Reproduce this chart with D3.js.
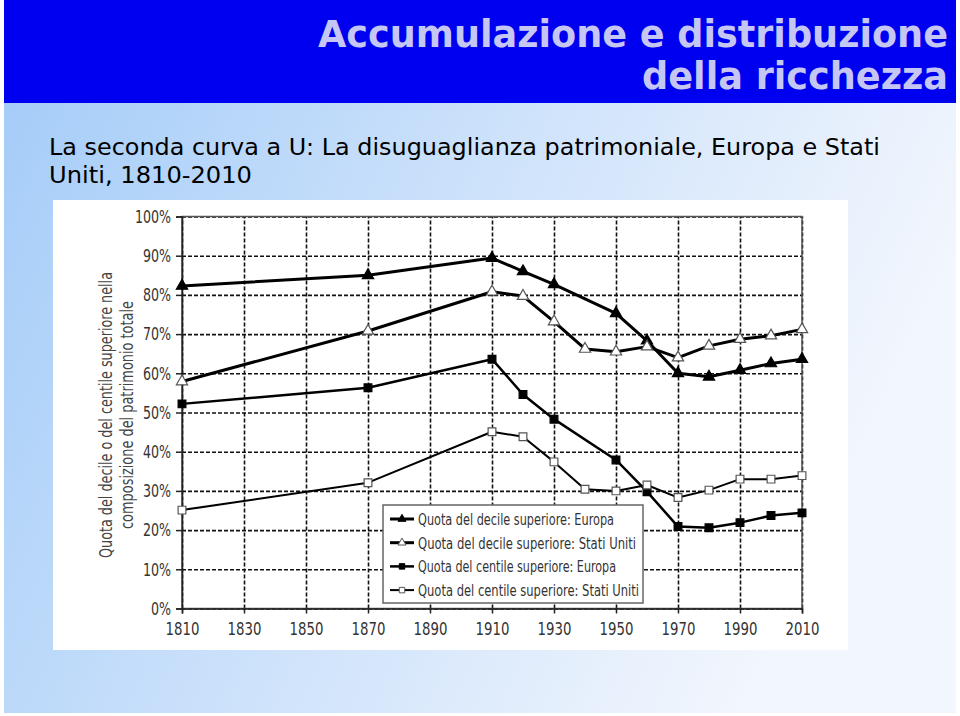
<!DOCTYPE html>
<html>
<head>
<meta charset="utf-8">
<script src="https://cdn.jsdelivr.net/npm/d3@7"></script>
<style>
  html, body { margin: 0; padding: 0; background: #ffffff; }
  svg { display: block; }
</style>
</head>
<body>
<svg id="chart" width="960" height="716"></svg>
<script>
// ---- data ----
const titleLines = ["Accumulazione e distribuzione", "della ricchezza"];
const subtitleLines = ["La seconda curva a U: La disuguaglianza patrimoniale, Europa e Stati", "Uniti, 1810-2010"];
const yAxisTitle = ["Quota del decile o del centile superiore nella", "composizione del patrimonio totale"];
const xTicks = [1810, 1830, 1850, 1870, 1890, 1910, 1930, 1950, 1970, 1990, 2010];
const yTicks = [0, 0.1, 0.2, 0.3, 0.4, 0.5, 0.6, 0.7, 0.8, 0.9, 1.0];
const seriesNames = [
  "Quota del decile superiore: Europa",
  "Quota del decile superiore: Stati Uniti",
  "Quota del centile superiore: Europa",
  "Quota del centile superiore: Stati Uniti"
];
const decileEuropeYears = [1810, 1870, 1910, 1920, 1930, 1950, 1960, 1970, 1980, 1990, 2000, 2010];
const decileEurope      = [0.823, 0.850, 0.894, 0.860, 0.827, 0.753, 0.683, 0.600, 0.591, 0.608, 0.625, 0.636];
const decileUSYears = [1810, 1870, 1910, 1920, 1930, 1940, 1950, 1960, 1970, 1980, 1990, 2000, 2010];
const decileUS      = [0.579, 0.708, 0.808, 0.797, 0.732, 0.662, 0.655, 0.668, 0.640, 0.670, 0.687, 0.696, 0.712];
const centileEuropeYears = [1810, 1870, 1910, 1920, 1930, 1950, 1960, 1970, 1980, 1990, 2000, 2010];
const centileEurope      = [0.522, 0.563, 0.636, 0.546, 0.483, 0.379, 0.298, 0.209, 0.206, 0.219, 0.237, 0.244];
const centileUSYears = [1810, 1870, 1910, 1920, 1930, 1940, 1950, 1960, 1970, 1980, 1990, 2000, 2010];
const centileUS      = [0.251, 0.321, 0.451, 0.438, 0.374, 0.304, 0.300, 0.315, 0.283, 0.302, 0.330, 0.330, 0.339];

const series = [
  {name: seriesNames[0], years: decileEuropeYears, values: decileEurope, shape: "tri", fill: "#000", width: 3},
  {name: seriesNames[1], years: decileUSYears, values: decileUS, shape: "tri", fill: "#fff", width: 3},
  {name: seriesNames[2], years: centileEuropeYears, values: centileEurope, shape: "sq", fill: "#000", width: 2.5},
  {name: seriesNames[3], years: centileUSYears, values: centileUS, shape: "sq", fill: "#fff", width: 2}
];
const legendTextWidths = [196, 218, 198, 221];

const svg = d3.select("#chart");
const defs = svg.append("defs");
const grad = defs.append("linearGradient").attr("id", "bg").attr("x1", "0").attr("y1", "0").attr("x2", "1").attr("y2", "0.35");
grad.append("stop").attr("offset", "0").attr("stop-color", "#a2cbf8");
grad.append("stop").attr("offset", "0.55").attr("stop-color", "#cfe3fb");
grad.append("stop").attr("offset", "1").attr("stop-color", "#f2f6fd");

// slide background
svg.append("rect").attr("x", 4).attr("y", 0).attr("width", 952).attr("height", 713).attr("fill", "url(#bg)");
// banner
svg.append("rect").attr("x", 4).attr("y", 0).attr("width", 952).attr("height", 103).attr("fill", "#0000f0");

const titleFont = "Tahoma, 'DejaVu Sans', Verdana, sans-serif";
svg.append("text").attr("x", 948).attr("y", 47).attr("text-anchor", "end")
  .attr("font-family", titleFont).attr("font-weight", "bold").attr("font-size", 37)
  .attr("fill", "#c6c6f4").attr("textLength", 630).attr("lengthAdjust", "spacingAndGlyphs")
  .text(titleLines[0]);
svg.append("text").attr("x", 948).attr("y", 89).attr("text-anchor", "end")
  .attr("font-family", titleFont).attr("font-weight", "bold").attr("font-size", 37)
  .attr("fill", "#c6c6f4").attr("textLength", 306).attr("lengthAdjust", "spacingAndGlyphs")
  .text(titleLines[1]);

svg.append("text").attr("x", 49).attr("y", 155)
  .attr("font-family", titleFont).attr("font-size", 22.5).attr("fill", "#000")
  .attr("textLength", 831).attr("lengthAdjust", "spacingAndGlyphs")
  .text(subtitleLines[0]);
svg.append("text").attr("x", 49).attr("y", 183)
  .attr("font-family", titleFont).attr("font-size", 22.5).attr("fill", "#000")
  .attr("textLength", 203).attr("lengthAdjust", "spacingAndGlyphs")
  .text(subtitleLines[1]);

// chart image panel
svg.append("rect").attr("x", 53).attr("y", 200).attr("width", 795).attr("height", 450).attr("fill", "#ffffff");

const x = d3.scaleLinear().domain([1810, 2010]).range([182, 802]);
const y = d3.scaleLinear().domain([0, 1]).range([608.5, 216.5]);
const narrow = "'Liberation Sans Narrow', 'DejaVu Sans Condensed', 'Arial Narrow', sans-serif";

function squeeze(sel, f) {
  sel.each(function() {
    const len = this.getComputedTextLength();
    d3.select(this).attr("textLength", len * f).attr("lengthAdjust", "spacingAndGlyphs");
  });
}

// grid
const gx = svg.append("g").attr("transform", `translate(0,${y(0)})`)
  .call(d3.axisBottom(x).tickValues(xTicks).tickSize(-(y(0) - y(1))).tickFormat(""));
gx.select(".domain").remove();
gx.selectAll(".tick line").attr("stroke", "#111").attr("stroke-width", 1.6).attr("stroke-dasharray", "4,2");
const gy = svg.append("g").attr("transform", `translate(${x(1810)},0)`)
  .call(d3.axisLeft(y).tickValues(yTicks).tickSize(-(x(2010) - x(1810))).tickFormat(""));
gy.select(".domain").remove();
gy.selectAll(".tick line").attr("stroke", "#111").attr("stroke-width", 1.6).attr("stroke-dasharray", "4,2");

// frame
svg.append("rect").attr("x", x(1810)).attr("y", y(1)).attr("width", x(2010) - x(1810)).attr("height", y(0) - y(1))
  .attr("fill", "none").attr("stroke", "#555").attr("stroke-width", 1.5);

// axes with labels
const ax = svg.append("g").attr("transform", `translate(0,${y(0)})`)
  .call(d3.axisBottom(x).tickValues(xTicks).tickSize(5).tickFormat(d3.format("d")));
ax.select(".domain").attr("stroke", "#222").attr("stroke-width", 1.5);
ax.selectAll(".tick line").attr("stroke", "#222").attr("stroke-width", 1.5);
ax.selectAll(".tick text").attr("font-family", narrow).attr("font-size", 18).attr("fill", "#333").attr("dy", "1.0em");
squeeze(ax.selectAll(".tick text"), 0.82);

const ay = svg.append("g").attr("transform", `translate(${x(1810)},0)`)
  .call(d3.axisLeft(y).tickValues(yTicks).tickSize(6).tickFormat(d3.format(".0%")));
ay.select(".domain").attr("stroke", "#222").attr("stroke-width", 1.5);
ay.selectAll(".tick line").attr("stroke", "#222").attr("stroke-width", 1.5);
ay.selectAll(".tick text").attr("font-family", narrow).attr("font-size", 18).attr("fill", "#333").attr("x", -11);
squeeze(ay.selectAll(".tick text"), 0.78);

// y-axis title
svg.append("text").attr("transform", "translate(112,415) rotate(-90)").attr("text-anchor", "middle")
  .attr("font-family", narrow).attr("font-size", 17).attr("fill", "#444")
  .attr("textLength", 286).attr("lengthAdjust", "spacingAndGlyphs").text(yAxisTitle[0]);
svg.append("text").attr("transform", "translate(133,415) rotate(-90)").attr("text-anchor", "middle")
  .attr("font-family", narrow).attr("font-size", 17).attr("fill", "#444")
  .attr("textLength", 228).attr("lengthAdjust", "spacingAndGlyphs").text(yAxisTitle[1]);

// lines
const line = d3.line().x(d => x(d[0])).y(d => y(d[1]));
const triPath = d3.symbol().type(d3.symbolTriangle).size(55)();
const sqPath = d3.symbol().type(d3.symbolSquare).size(60)();
series.forEach(s => {
  const pts = s.years.map((yr, i) => [yr, s.values[i]]);
  svg.append("path").datum(pts).attr("d", line).attr("fill", "none")
    .attr("stroke", "#000").attr("stroke-width", s.width).attr("stroke-linejoin", "round");
  svg.append("g").selectAll("path").data(pts).join("path")
    .attr("transform", d => `translate(${x(d[0])},${y(d[1])})`)
    .attr("d", s.shape === "tri" ? triPath : sqPath)
    .attr("fill", s.fill).attr("stroke", s.fill === "#fff" ? "#555" : "#000").attr("stroke-width", 1.2);
});

// legend
const lg = svg.append("g");
lg.append("rect").attr("x", 383).attr("y", 505).attr("width", 260).attr("height", 98)
  .attr("fill", "#fff").attr("stroke", "#666").attr("stroke-width", 1.5);
series.forEach((s, i) => {
  const ly = 519 + i * 23.7;
  lg.append("line").attr("x1", 390).attr("x2", 414).attr("y1", ly).attr("y2", ly)
    .attr("stroke", "#000").attr("stroke-width", s.width);
  lg.append("path").attr("transform", `translate(402,${ly})`)
    .attr("d", s.shape === "tri" ? d3.symbol().type(d3.symbolTriangle).size(28)() : d3.symbol().type(d3.symbolSquare).size(30)())
    .attr("fill", s.fill).attr("stroke", s.fill === "#fff" ? "#555" : "#000").attr("stroke-width", 1);
  lg.append("text").attr("x", 418).attr("y", ly).attr("dy", "0.36em")
    .attr("font-family", narrow).attr("font-size", 16.5).attr("fill", "#333")
    .attr("textLength", legendTextWidths[i]).attr("lengthAdjust", "spacingAndGlyphs").text(s.name);
});
</script>
</body>
</html>
